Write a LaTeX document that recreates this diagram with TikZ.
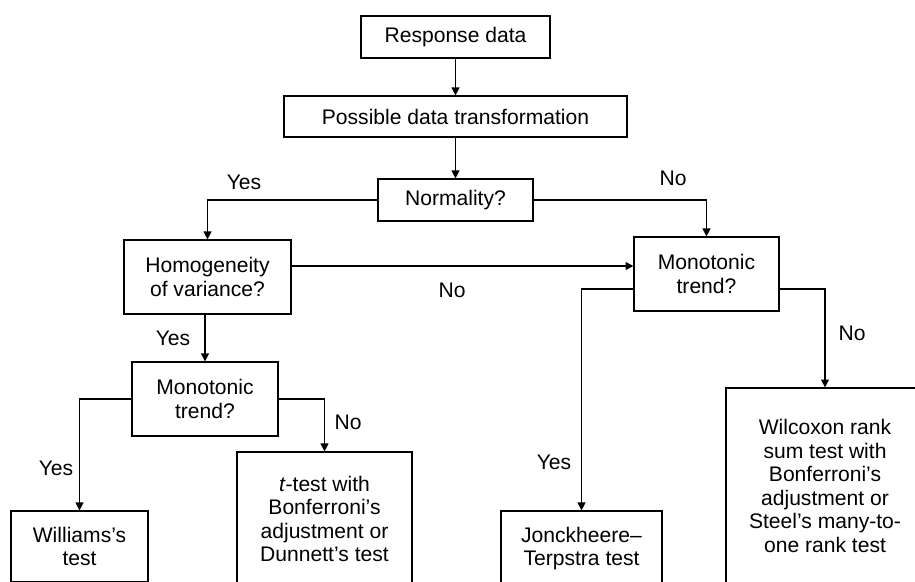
\documentclass[tikz,border=0pt]{standalone}
\usepackage{fontspec}
\setmainfont{Liberation Sans}
\usetikzlibrary{arrows.meta}

\begin{document}
\begin{tikzpicture}[
  x=0.02cm, y=-0.02cm,
  font=\fontsize{12}{13.4}\selectfont,
  box/.style={draw, line width=0.7pt, align=center, inner sep=2pt},
  arrow/.style={-{Triangle[width=4.5pt,length=4.5pt]}, line width=0.7pt},
  lbl/.style={inner sep=0pt}
]
\useasboundingbox (0,0) rectangle (915,581);
\clip (0,0) rectangle (915,581);

\node[box, minimum width=3.78cm, minimum height=0.84cm] (resp) at (455.5,37)
  {Response data};
\node[box, minimum width=6.86cm, minimum height=0.82cm] (trans) at (455.5,116.5)
  {Possible data transformation};
\node[box, minimum width=3.1cm, minimum height=0.84cm] (norm) at (455.5,200)
  {Normality?};

\node[box, minimum width=3.34cm, minimum height=1.48cm] (homog) at (207.5,277)
  {Homogeneity\\of variance?};
\node[box, minimum width=2.9cm, minimum height=1.48cm] (monoR) at (706.5,274)
  {Monotonic\\trend?};
\node[box, minimum width=2.92cm, minimum height=1.48cm] (monoL) at (205,399)
  {Monotonic\\trend?};

% bottom row, cut off by the frame
\node[box, minimum width=2.74cm, minimum height=1.42cm] (will) at (79.5,546.5)
  {Williams’s\\test};
\node[box, minimum width=3.5cm, minimum height=2.68cm] (ttest) at (324.5,519)
  {\textit{t}-test with\\Bonferroni’s\\adjustment or\\Dunnett’s test};
\node[box, minimum width=3.22cm, minimum height=1.5cm] (jonck) at (581.5,548.5)
  {Jonckheere–\\Terpstra test};
\node[box, minimum width=3.96cm, minimum height=3.92cm] (wilc) at (825,486)
  {Wilcoxon rank\\sum test with\\Bonferroni’s\\adjustment or\\Steel’s many-to-\\one rank test};

\draw[arrow] (resp.south) -- (trans.north);
\draw[arrow] (trans.south) -- (norm.north);
\draw[arrow] (norm.west) -| (homog.north);
\draw[arrow] (norm.east) -| (monoR.north);

\coordinate (hv) at ([yshift=0.22cm]homog.east);
\draw[arrow] (hv) -- (hv -| monoR.west);
\draw[arrow] (monoL.north |- homog.south) -- (monoL.north);

\draw[arrow] (monoL.west) -| (will.north);
\draw[arrow] (monoL.east) -| (ttest.north);

\coordinate (mrl) at ([yshift=-0.3cm]monoR.west);
\coordinate (mrr) at ([yshift=-0.3cm]monoR.east);
\draw[arrow] (mrl) -| (jonck.north);
\draw[arrow] (mrr) -| (wilc.north);

% branch labels
\node[lbl] (yesN) at (244,182) {Yes};
\node[lbl] (noN) at (673,178) {No};
\node[lbl] (noH) at (452,290) {No};
\node[lbl] (yesH) at (173,338) {Yes};
\node[lbl] (yesL) at (56,468) {Yes};
\node[lbl] (noL) at (348,422) {No};
\node[lbl] (yesR) at (554,462) {Yes};
\node[lbl] (noR) at (852,333) {No};

\end{tikzpicture}
\end{document}
